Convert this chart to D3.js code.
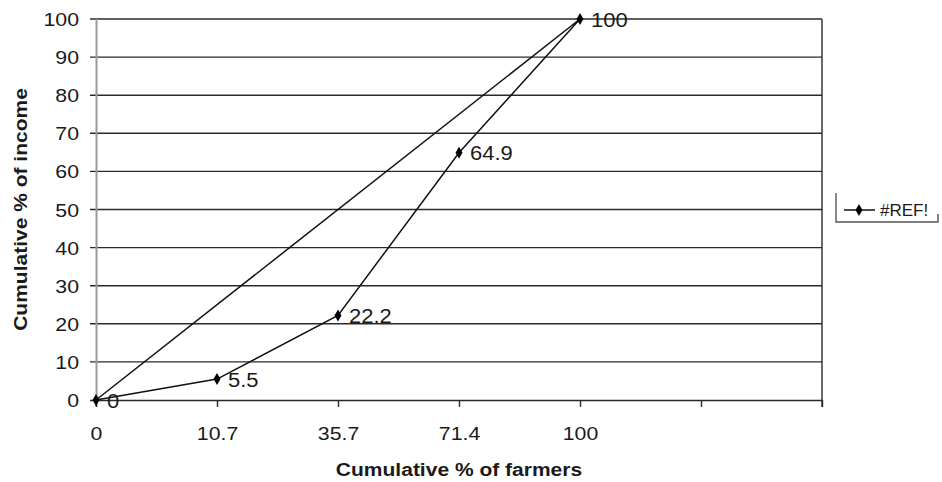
<!DOCTYPE html>
<html>
<head>
<meta charset="utf-8">
<script src="https://cdn.jsdelivr.net/npm/d3@7/dist/d3.min.js"></script>
<style>
  html, body { margin: 0; padding: 0; background: #fff; }
  svg { display: block; font-family: "Liberation Sans", Arial, sans-serif; }
</style>
</head>
<body>
<svg id="chart" width="942" height="482"></svg>
<script>
// Category axis: cumulative % of farmers (two trailing empty slots)
const categories = ["0", "10.7", "35.7", "71.4", "100", "", ""];
// Lorenz curve: cumulative % of income
const lorenzCats = ["0", "10.7", "35.7", "71.4", "100"];
const lorenzValues = [0, 5.5, 22.2, 64.9, 100];
// Line of equality
const equalityIdx = [0, 4];
const equalityValues = [0, 100];
const yTicks = [0, 10, 20, 30, 40, 50, 60, 70, 80, 90, 100];
const legendLabel = "#REF!";

const svg = d3.select("#chart");
const plot = { left: 96, right: 822, top: 19, bottom: 400 };

const x = d3.scalePoint()
  .domain(d3.range(categories.length))
  .range([plot.left, plot.right]);
const y = d3.scaleLinear().domain([0, 100]).range([plot.bottom, plot.top]);

// widen text horizontally by a factor
function stretch(sel, k) {
  sel.each(function () {
    const w = this.getComputedTextLength();
    d3.select(this).attr("textLength", w * k).attr("lengthAdjust", "spacingAndGlyphs");
  });
}

// horizontal gridlines with short outer ticks
svg.append("g").selectAll("line").data(yTicks.filter(d => d > 0)).join("line")
  .attr("x1", plot.left - 6).attr("x2", plot.right)
  .attr("y1", d => y(d)).attr("y2", d => y(d))
  .attr("stroke", "#2a2a2a").attr("stroke-width", 1.4);

// left axis (grey)
svg.append("line")
  .attr("x1", plot.left + 0.5).attr("x2", plot.left + 0.5)
  .attr("y1", plot.top).attr("y2", plot.bottom + 7)
  .attr("stroke", "#9a9a9a").attr("stroke-width", 2);

// right border
svg.append("line")
  .attr("x1", plot.right).attr("x2", plot.right)
  .attr("y1", plot.top).attr("y2", plot.bottom + 7)
  .attr("stroke", "#2a2a2a").attr("stroke-width", 1.4);

// bottom axis
const xAxis = d3.axisBottom(x)
  .tickSize(7)
  .tickFormat(i => categories[i]);
const gx = svg.append("g")
  .attr("transform", `translate(0,${plot.bottom})`)
  .call(xAxis);
gx.select(".domain")
  .attr("d", `M${plot.left - 6},0.5H${plot.right}`)
  .attr("stroke", "#2a2a2a").attr("stroke-width", 1.4);
gx.selectAll(".tick line").attr("stroke", "#2a2a2a").attr("stroke-width", 1.4);
gx.selectAll(".tick text")
  .attr("y", 40).attr("dy", null)
  .attr("font-size", 19).attr("fill", "#1a1a1a")
  .attr("font-family", "Liberation Sans, Arial, sans-serif")
  .call(stretch, 1.12);

// y tick labels
svg.append("g").selectAll("text").data(yTicks).join("text")
  .attr("x", 79).attr("y", d => y(d) + 7)
  .attr("text-anchor", "end")
  .attr("font-size", 19).attr("fill", "#1a1a1a")
  .text(d => d)
  .call(stretch, 1.12);

// line of equality
const line = d3.line().x(d => d[0]).y(d => d[1]);
svg.append("path")
  .attr("d", line(equalityIdx.map((i, k) => [x(i), y(equalityValues[k])])))
  .attr("fill", "none").attr("stroke", "#111").attr("stroke-width", 1.5);

// Lorenz curve
const pts = lorenzValues.map((v, i) => [x(categories.indexOf(lorenzCats[i])), y(v), v]);
svg.append("path")
  .attr("d", line(pts))
  .attr("fill", "none").attr("stroke", "#111").attr("stroke-width", 1.5);

const diamond = d3.symbol().type(d3.symbolDiamond).size(42);
svg.append("g").selectAll("path").data(pts).join("path")
  .attr("transform", d => `translate(${d[0]},${d[1]})`)
  .attr("d", diamond).attr("fill", "#000");

// value labels
svg.append("g").selectAll("text").data(pts).join("text")
  .attr("x", d => d[0] + 11).attr("y", d => d[1] + 7.5)
  .attr("font-size", 20).attr("fill", "#1a1a1a")
  .text(d => d[2])
  .call(stretch, 1.1);

// axis titles
svg.append("text")
  .attr("x", (plot.left + plot.right) / 2).attr("y", 476)
  .attr("text-anchor", "middle")
  .attr("font-size", 17.5).attr("font-weight", "bold").attr("fill", "#1a1a1a")
  .text("Cumulative % of farmers")
  .call(stretch, 1.2);

svg.append("text")
  .attr("transform", `translate(27,${(plot.top + plot.bottom) / 2}) rotate(-90)`)
  .attr("text-anchor", "middle")
  .attr("font-size", 17.5).attr("font-weight", "bold").attr("fill", "#1a1a1a")
  .text("Cumulative % of income")
  .call(stretch, 1.2);

// legend
const lg = svg.append("g");
lg.append("path")
  .attr("d", "M836,193V222H938V214")
  .attr("fill", "none").attr("stroke", "#555").attr("stroke-width", 1.4);
lg.append("line")
  .attr("x1", 844).attr("x2", 875).attr("y1", 210).attr("y2", 210)
  .attr("stroke", "#111").attr("stroke-width", 1.5);
lg.append("path")
  .attr("transform", "translate(859,210)")
  .attr("d", diamond).attr("fill", "#000");
lg.append("text")
  .attr("x", 880).attr("y", 216)
  .attr("font-size", 17).attr("fill", "#1a1a1a")
  .text(legendLabel)
  .call(stretch, 1.0);
</script>
</body>
</html>
